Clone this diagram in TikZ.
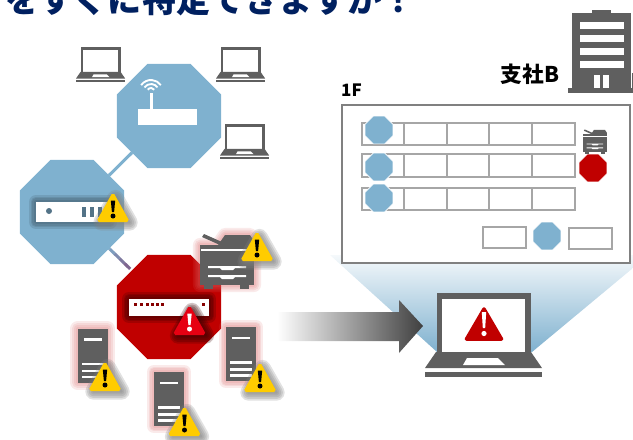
\documentclass[tikz,border=0pt]{standalone}
\usepackage{fontspec}
\setmainfont{Noto Sans CJK JP}
\usetikzlibrary{calc,shapes.geometric}

\definecolor{netblue}{HTML}{7FB1CF}
\definecolor{netred}{HTML}{C00000}
\definecolor{icongray}{HTML}{5F5F5F}
\definecolor{wallgray}{HTML}{A6A6A6}
\definecolor{titleblue}{HTML}{002060}
\definecolor{warnyellow}{HTML}{FFCC00}
\definecolor{warnred}{HTML}{E60012}
\definecolor{halopink}{HTML}{D96A6A}

% Alone di tratti sovrapposti
\newcommand{\halo}[4]{%
  \foreach \w in {#3} {
    \draw[#1, opacity=#2, line width=\w pt, line join=round] #4;
  }
}

\tikzset{
  octagon/.style={regular polygon, regular polygon sides=8,
    inner sep=0pt, outer sep=0pt, minimum size=3.378cm},
  smallocta/.style={octagon, minimum size=0.9cm, draw=white, line width=0.6pt},
  wallbox/.style={draw=wallgray, line width=1.7pt, fill=white},
  labeltext/.style={font=\bfseries, inner sep=0pt, text=black},
  pics/laptop/.style={code={
    \fill[icongray] (12,0) rectangle (106,59);
    \fill[white] (17,6) rectangle (100,59);
    \fill[icongray] (11,59) -- (106,59) -- (117,75) -- (0,75) -- cycle;
    \fill[white] (42,65) -- (73,65) -- (80,72) -- (38,72) -- cycle;
    \fill[icongray] (0,79) rectangle (117,84);
  }},
  pics/warn/.style n args={3}{code={
    \halo{#3}{0.24}{2,5,8,11,14}{[shift={(2.5,2.5)}] (-14,12) -- (0,-12.5) -- (14,12) -- cycle}
    \fill[#1, draw=#1, line width=1.5pt, rounded corners=1.5pt] (-15.5,13.2) -- (0,-14.5) -- (15.5,13.2) -- cycle;
    \fill[#2] (-2.2,-7.5) -- (2.2,-7.5) -- (1.1,4) -- (-1.1,4) -- cycle;
    \fill[#2] (0,8) circle (2.5);
  }},
  pics/server/.style={code={
    \halo{halopink}{0.14}{3,6,9,12}{(-15,-27) rectangle (15,27)}
    \fill[icongray] (-15,-27) rectangle (15,27);
    \fill[white] (-9,-17.5) rectangle (9,-15);
    \foreach \y in {7,14,20} {
      \fill[white] (-11,\y) rectangle (11,\y+2.5);
    }
  }},
  pics/printer/.style={code={
    \fill[icongray] (2,4) -- (4,1) -- (22,9) -- (20,12) -- cycle;
    \fill[icongray] (18,12) -- (25,2) -- (50,2) -- (54,8) -- (54,12) -- cycle;
    \fill[icongray] (0,12) rectangle (54,52);
    \fill[icongray] (4,52) rectangle (13,56);
    \fill[icongray] (40,52) rectangle (49,56);
    \fill[white] (1,16) rectangle (54,18);
    \foreach \y in {33,42} {
      \fill[white] (8,\y) -- (46,\y) -- (46,\y+2) -- (35,\y+2) -- (33,\y+4) -- (22,\y+4) -- (20,\y+2) -- (8,\y+2) -- cycle;
    }
  }},
}

\begin{document}
\begin{tikzpicture}[x=0.03cm, y=-0.03cm]
\useasboundingbox (0,0) rectangle (633,439);

% Titolo tagliato in alto
\node[anchor=base west, inner sep=0pt, font=\fontsize{29.2pt}{30pt}\selectfont\bfseries, text=titleblue] (title) at (5,12.5) {をすぐに特定できますか！};

% Fascio azzurro sotto la pianta
\shade[top color=netblue!8!white, middle color=netblue!45!white, bottom color=netblue] (330,255) -- (633,255) -- (633,268) -- (532,352) -- (437,352) -- cycle;

% Ottagoni della rete
\node[octagon, fill=netblue] (router) at (169,116) {};
\node[octagon, fill=netblue] (switchblue) at (72,212) {};
\node[octagon, fill=netred] (switchred) at (169,307) {};
\draw[netblue, line width=2.6pt] (router) -- (switchblue);
\foreach \s/\e/\m in {.34/.39/0,.39/.44/20,.44/.49/40,.49/.54/60,.54/.6/80} {
  \draw[line width=2.6pt, color=violet!35!gray!\m!netblue] ($(switchblue)!\s!(switchred)$) -- ($(switchblue)!\e!(switchred)$);
}

% Portatili piccoli
\pic[scale=0.42] (laptopa) at (76,47) {laptop};
\pic[scale=0.42] (laptopb) at (216,47) {laptop};
\pic[scale=0.42] (laptopc) at (220,124) {laptop};

% Router con antenna
\fill[white] (138,109) rectangle (197,125);
\fill[white] (149.5,93) rectangle (152.5,109);
\foreach \r in {4,8,12} {
  \draw[white, line width=1.6pt] (151,92) ++(-145:\r) arc[start angle=-145, end angle=-35, radius=\r];
}

% Switch azzurro
\halo{black!60!netblue}{0.17}{3,6,9,12}{(36,202) rectangle (110,222)}
\fill[white] (36,202) rectangle (110,222);
\fill[black!35!netblue] (49,211) circle (3);
\foreach \x in {82,90,98} {
  \fill[black!35!netblue] (\x,207) rectangle (\x+3.5,217);
}
\pic (warnswitch) at (113,208) {warn={warnyellow}{black}{gray}};

% Switch rosso
\halo{black!70!netred}{0.22}{3,6,9,12}{(129,299) rectangle (209,316)}
\fill[white] (129,299) rectangle (209,316);
\foreach \x in {135,141,147,152,157,162,203} {
  \fill[netred!70!black] (\x-1.5,303) rectangle (\x+1.5,306);
}
\pic (warnred) at (189.5,321) {warn={warnred}{white}{black!70!netred}};

% Stampante con alone
\halo{halopink}{0.14}{3,6,9,12}{(200,245) -- (218,245) -- (225,235) -- (250,235) -- (254,245) -- (254,285) -- (200,285) -- cycle}
\pic (printerbig) at (200,233) {printer};
\pic (warnprinter) at (257,247) {warn={warnyellow}{black}{gray}};

% Server
\pic (servera) at (92.5,355.5) {server};
\pic (serverb) at (169,399) {server};
\pic (serverc) at (241,354) {server};
\pic (warna) at (105,377) {warn={warnyellow}{black}{gray}};
\pic (warnb) at (184.5,422) {warn={warnyellow}{black}{gray}};
\pic (warnc) at (260,378) {warn={warnyellow}{black}{gray}};

% Freccia sfumata
\shade[left color=white, right color=black!75] (277,312) -- (399,312) -- (399,300) -- (423,326) -- (399,353) -- (399,341) -- (277,341) -- cycle;

% Portatile grande con avviso
\pic (laptopbig) at (425,293) {laptop};
\fill[netred, draw=netred, line width=3pt, line join=round] (466.5,339) -- (484,309) -- (501.5,339) -- cycle;
\fill[white] (481.8,312) -- (486.2,312) -- (485.2,328) -- (482.8,328) -- cycle;
\fill[white] (484,333.5) circle (2.6);

% Edificio
\fill[icongray] (572,13) rectangle (631,89);
\fill[icongray] (592,10) rectangle (611,13);
\fill[icongray] (568,88) rectangle (633,93);
\fill[icongray] (631.8,73) rectangle (633,88);
\foreach \y in {22,35,48,61} {
  \fill[white] (580,\y) rectangle (624,\y+6.5);
}
\fill[white] (594,75) rectangle (600,88);
\fill[white] (603,75) rectangle (609,88);
\node[labeltext, font=\fontsize{18.5pt}{20pt}\selectfont\bfseries] (branch) at (530,74) {支社B};
\node[labeltext, font=\fontsize{14.5pt}{16pt}\selectfont\bfseries] (floor) at (351.5,90) {1F};

% Pianta del piano
\draw[draw=black!50, line width=1.7pt, fill=white] (342,105) rectangle (630,263);
\foreach \y/\h in {123/145,154/177,188/210} {
  \draw[wallbox] (362,\y) rectangle (575,\h);
  \foreach \x in {404,447,489,532} {
    \draw[draw=wallgray, line width=1.7pt] (\x,\y) -- (\x,\h);
  }
}
\draw[wallbox] (483,227) rectangle (526,248);
\draw[wallbox] (569,228) rectangle (612,249);
\node[smallocta, fill=netblue] (apa) at (379,130) {};
\node[smallocta, fill=netblue] (apb) at (379,167) {};
\node[smallocta, fill=netblue] (apc) at (379,198) {};
\node[smallocta, fill=netblue] (apd) at (547,236) {};
\node[smallocta, fill=netred] (apred) at (593,168) {};
\pic[scale=0.44] (printersmall) at (583,129) {printer};

\end{tikzpicture}
\end{document}
